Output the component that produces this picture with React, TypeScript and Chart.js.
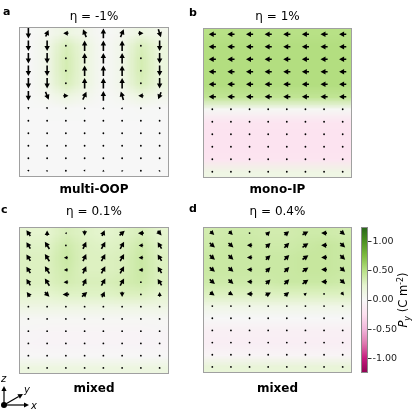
import React, { useEffect, useRef } from "react";
import { Chart, registerables } from "chart.js";

Chart.register(...registerables);

// ---------- data ----------
const colIndex = [0, 1, 2, 3, 4, 5, 6, 7];
const rowIndex = [0, 1, 2, 3, 4, 5, 6, 7, 8, 9, 10, 11];
const cbTicks = [-1, -0.5, 0, 0.5, 1];
const cbMin = -1.25;
const cbMax = 1.25;

// Py (colour) per panel, rows top->bottom, 8 columns
const pyA = [
  [0.0, 0.05, 0.14, 0.08, 0.0, 0.05, 0.14, 0.08],
  [0.0, 0.1, 0.32, 0.16, 0.0, 0.1, 0.32, 0.16],
  [0.0, 0.1, 0.35, 0.16, 0.0, 0.1, 0.35, 0.16],
  [0.0, 0.1, 0.35, 0.16, 0.0, 0.1, 0.35, 0.16],
  [0.0, 0.1, 0.32, 0.16, 0.0, 0.1, 0.32, 0.16],
  [0.0, 0.05, 0.15, 0.08, 0.0, 0.05, 0.15, 0.08],
  [0.0, 0.0, 0.01, 0.0, 0.0, 0.0, 0.01, 0.0],
  [0.0, 0.0, 0.0, 0.0, 0.0, 0.0, 0.0, 0.0],
  [0.0, 0.0, 0.0, 0.0, 0.0, 0.0, 0.0, 0.0],
  [0.0, 0.0, 0.0, 0.0, 0.0, 0.0, 0.0, 0.0],
  [0.0, 0.0, 0.0, 0.0, 0.0, 0.0, 0.0, 0.0],
  [0.0, 0.0, 0.0, 0.0, 0.0, 0.0, 0.0, 0.0],
];
const pyB = [
  [0.5, 0.5, 0.5, 0.5, 0.5, 0.5, 0.5, 0.5],
  [0.52, 0.52, 0.52, 0.52, 0.52, 0.52, 0.52, 0.52],
  [0.52, 0.52, 0.52, 0.52, 0.52, 0.52, 0.52, 0.52],
  [0.52, 0.52, 0.52, 0.52, 0.52, 0.52, 0.52, 0.52],
  [0.52, 0.52, 0.52, 0.52, 0.52, 0.52, 0.52, 0.52],
  [0.45, 0.45, 0.45, 0.45, 0.45, 0.45, 0.45, 0.45],
  [0.02, 0.02, 0.02, 0.02, 0.02, 0.02, 0.02, 0.02],
  [-0.2, -0.2, -0.2, -0.2, -0.2, -0.2, -0.2, -0.2],
  [-0.22, -0.22, -0.22, -0.22, -0.22, -0.22, -0.22, -0.22],
  [-0.22, -0.22, -0.22, -0.22, -0.22, -0.22, -0.22, -0.22],
  [-0.2, -0.2, -0.2, -0.2, -0.2, -0.2, -0.2, -0.2],
  [0.12, 0.12, 0.12, 0.12, 0.12, 0.12, 0.12, 0.12],
];
const pyC = [
  [0.25, 0.25, 0.32, 0.28, 0.25, 0.28, 0.32, 0.25],
  [0.28, 0.28, 0.38, 0.3, 0.28, 0.3, 0.38, 0.28],
  [0.3, 0.3, 0.4, 0.3, 0.3, 0.32, 0.4, 0.3],
  [0.3, 0.3, 0.38, 0.3, 0.3, 0.32, 0.4, 0.3],
  [0.3, 0.3, 0.35, 0.32, 0.32, 0.35, 0.38, 0.3],
  [0.25, 0.25, 0.28, 0.28, 0.28, 0.3, 0.3, 0.25],
  [0.12, 0.12, 0.12, 0.12, 0.12, 0.12, 0.12, 0.12],
  [0.02, 0.02, 0.02, 0.02, 0.02, 0.02, 0.02, 0.02],
  [-0.02, -0.03, -0.03, -0.03, -0.03, -0.03, -0.03, -0.02],
  [-0.03, -0.04, -0.04, -0.04, -0.04, -0.04, -0.04, -0.03],
  [0.0, 0.0, 0.0, 0.0, 0.0, 0.0, 0.0, 0.0],
  [0.15, 0.15, 0.15, 0.15, 0.15, 0.15, 0.15, 0.15],
];
const pyD = [
  [0.36, 0.38, 0.38, 0.36, 0.36, 0.38, 0.38, 0.36],
  [0.38, 0.4, 0.4, 0.38, 0.38, 0.4, 0.42, 0.4],
  [0.4, 0.4, 0.4, 0.4, 0.4, 0.42, 0.42, 0.4],
  [0.4, 0.4, 0.4, 0.4, 0.4, 0.42, 0.42, 0.4],
  [0.38, 0.38, 0.38, 0.38, 0.4, 0.4, 0.4, 0.38],
  [0.3, 0.3, 0.3, 0.3, 0.3, 0.3, 0.3, 0.3],
  [0.1, 0.1, 0.1, 0.1, 0.1, 0.1, 0.1, 0.1],
  [0.0, 0.0, 0.0, 0.0, 0.0, 0.0, 0.0, 0.0],
  [-0.08, -0.08, -0.08, -0.08, -0.08, -0.08, -0.08, -0.08],
  [-0.1, -0.1, -0.1, -0.1, -0.1, -0.1, -0.1, -0.1],
  [-0.03, -0.03, -0.03, -0.03, -0.03, -0.03, -0.03, -0.03],
  [0.2, 0.2, 0.2, 0.2, 0.2, 0.2, 0.2, 0.2],
];

// Px / Pz (arrows) per panel
const pxA = [
  [0, 0.22, -0.4, -0.25, 0, 0.25, 0.4, 0.2],
  [0, 0, 0, 0, 0, 0, 0, 0],
  [0, 0, 0, 0, 0, 0, 0, 0],
  [0, 0, 0, 0, 0, 0, 0, 0],
  [0, 0, 0, 0, 0, 0, 0, 0],
  [0, 0.25, 0.4, 0.28, 0, -0.2, -0.4, -0.22],
  [0, 0.08, 0.12, -0.08, 0, 0.06, -0.12, -0.06],
  [0, 0, 0, 0, 0, 0, 0, 0],
  [0, 0, 0, 0, 0, 0, 0, 0],
  [0, 0, 0, 0, 0, 0, 0, 0],
  [0, 0, 0, 0, 0, 0, 0, 0],
  [0, 0.06, 0.1, 0.08, 0, -0.06, -0.1, 0.06],
];
const pzA = [
  [-0.8, 0.5, 0, 0.6, 0.75, 0.6, 0, -0.6],
  [-0.82, -0.8, 0.04, 0.8, 0.82, 0.8, 0.04, -0.8],
  [-0.82, -0.8, 0.04, 0.8, 0.82, 0.8, 0.04, -0.8],
  [-0.82, -0.8, 0.04, 0.8, 0.82, 0.8, 0.04, -0.8],
  [-0.82, -0.8, 0.04, 0.8, 0.82, 0.8, 0.04, -0.8],
  [-0.75, -0.6, 0, 0.6, 0.75, 0.65, 0, -0.55],
  [-0.2, -0.16, 0, 0.14, 0.18, 0.14, 0, -0.14],
  [-0.06, -0.05, 0, 0.05, 0.06, 0.05, 0, -0.05],
  [-0.05, -0.05, 0, 0.05, 0.05, 0.05, 0, -0.05],
  [-0.05, -0.05, 0, 0.05, 0.05, 0.05, 0, -0.05],
  [-0.06, -0.05, 0, 0.05, 0.06, 0.05, 0, -0.05],
  [-0.16, 0.12, 0, -0.12, 0.14, 0.12, 0, 0.12],
];
const pxB = [
  [-0.55, -0.55, -0.55, -0.55, -0.55, -0.55, -0.55, -0.55],
  [-0.55, -0.55, -0.55, -0.55, -0.55, -0.55, -0.55, -0.55],
  [-0.55, -0.55, -0.55, -0.55, -0.55, -0.55, -0.55, -0.55],
  [-0.55, -0.55, -0.55, -0.55, -0.55, -0.55, -0.55, -0.55],
  [-0.55, -0.55, -0.55, -0.55, -0.55, -0.55, -0.55, -0.55],
  [-0.55, -0.55, -0.55, -0.55, -0.55, -0.55, -0.55, -0.55],
  [-0.04, -0.04, -0.04, -0.04, -0.04, -0.04, -0.04, -0.04],
  [-0.04, -0.04, -0.04, -0.04, -0.04, -0.04, -0.04, -0.04],
  [-0.04, -0.04, -0.04, -0.04, -0.04, -0.04, -0.04, -0.04],
  [-0.04, -0.04, -0.04, -0.04, -0.04, -0.04, -0.04, -0.04],
  [-0.04, -0.04, -0.04, -0.04, -0.04, -0.04, -0.04, -0.04],
  [-0.04, -0.04, -0.04, -0.04, -0.04, -0.04, -0.04, -0.04],
];
const pzB = [
  [0, 0, 0, 0, 0, 0, 0, 0],
  [0, 0, 0, 0, 0, 0, 0, 0],
  [0, 0, 0, 0, 0, 0, 0, 0],
  [0, 0, 0, 0, 0, 0, 0, 0],
  [0, 0, 0, 0, 0, 0, 0, 0],
  [0, 0, 0, 0, 0, 0, 0, 0],
  [0, 0, 0, 0, 0, 0, 0, 0],
  [0, 0, 0, 0, 0, 0, 0, 0],
  [0, 0, 0, 0, 0, 0, 0, 0],
  [0, 0, 0, 0, 0, 0, 0, 0],
  [0, 0, 0, 0, 0, 0, 0, 0],
  [0, 0, 0, 0, 0, 0, 0, 0],
];
const pxC = [
  [-0.3, 0, -0.15, 0, 0.2, 0.4, -0.45, 0.3],
  [-0.3, -0.35, -0.08, 0.25, 0.3, 0.3, -0.35, -0.3],
  [-0.3, -0.35, -0.3, 0.25, 0.3, 0.3, -0.35, -0.3],
  [-0.3, -0.35, -0.3, 0.25, 0.3, 0.3, -0.35, -0.3],
  [-0.3, -0.35, -0.35, 0.25, 0.3, 0.3, -0.08, -0.3],
  [-0.25, 0.35, -0.5, 0.4, 0.2, 0, -0.05, 0],
  [-0.04, 0.05, -0.05, 0.05, 0.04, 0.04, -0.05, 0.04],
  [-0.03, 0.03, -0.03, 0.03, 0.03, 0.03, -0.03, 0.03],
  [-0.03, 0.03, -0.03, 0.03, 0.03, 0.03, -0.03, 0.03],
  [-0.03, 0.03, -0.03, 0.03, 0.03, 0.03, -0.03, 0.03],
  [-0.03, 0.03, -0.03, 0.03, 0.03, 0.03, -0.03, 0.03],
  [-0.04, 0.04, -0.05, 0.04, 0.04, 0.04, -0.05, 0.04],
];
const pzC = [
  [0.45, 0.4, 0, -0.4, 0.45, 0.35, 0, -0.35],
  [0.5, 0.55, 0, 0.55, 0.55, 0.55, 0, 0.5],
  [0.5, 0.55, 0, 0.55, 0.55, 0.55, 0, 0.5],
  [0.5, 0.55, 0, 0.55, 0.55, 0.55, 0, 0.5],
  [0.5, 0.55, 0, 0.55, 0.55, 0.55, 0, 0.5],
  [0.35, -0.35, 0, 0.35, 0.45, -0.4, 0, 0.35],
  [0.04, -0.04, 0, 0.04, 0.04, -0.04, 0, 0.04],
  [0.03, -0.03, 0, 0.03, 0.03, -0.03, 0, 0.03],
  [0.03, -0.03, 0, 0.03, 0.03, -0.03, 0, 0.03],
  [0.03, -0.03, 0, 0.03, 0.03, -0.03, 0, 0.03],
  [0.03, -0.03, 0, 0.03, 0.03, -0.03, 0, 0.03],
  [0.04, -0.04, 0, 0.04, 0.04, -0.04, 0, 0.04],
];
const pxD = [
  [0.3, 0.28, -0.1, 0.3, 0.35, 0.45, -0.45, 0.35],
  [0.4, 0.38, -0.4, 0.35, 0.38, 0.45, -0.45, 0.38],
  [0.4, 0.38, -0.4, 0.35, 0.38, 0.45, -0.45, 0.38],
  [0.4, 0.38, -0.4, 0.35, 0.38, 0.45, -0.45, 0.38],
  [0.4, 0.38, -0.4, 0.35, 0.38, 0.45, -0.45, 0.38],
  [0.35, 0.35, -0.45, 0.42, 0.35, 0.2, -0.08, 0.2],
  [0.04, 0.04, -0.05, 0.04, 0.04, 0.04, -0.04, 0.04],
  [0.03, 0.03, -0.03, 0.03, 0.03, 0.03, -0.03, 0.03],
  [0.03, 0.03, -0.03, 0.03, 0.03, 0.03, -0.03, 0.03],
  [0.03, 0.03, -0.03, 0.03, 0.03, 0.03, -0.03, 0.03],
  [0.03, 0.03, -0.03, 0.03, 0.03, 0.03, -0.03, 0.03],
  [0.04, 0.04, -0.05, 0.04, 0.04, 0.04, -0.04, 0.04],
];
const pzD = [
  [-0.28, -0.28, 0, 0.3, 0.3, 0.25, 0, -0.3],
  [-0.35, -0.35, 0, 0.35, 0.38, 0.32, 0, -0.35],
  [-0.35, -0.35, 0, 0.35, 0.38, 0.32, 0, -0.35],
  [-0.35, -0.35, 0, 0.35, 0.38, 0.32, 0, -0.35],
  [-0.35, -0.35, 0, 0.35, 0.38, 0.32, 0, -0.35],
  [-0.25, -0.2, 0, 0.22, 0.3, 0.18, 0, -0.25],
  [-0.03, -0.03, 0, 0.03, 0.03, 0.03, 0, -0.03],
  [-0.02, -0.02, 0, 0.02, 0.02, 0.02, 0, -0.02],
  [-0.02, -0.02, 0, 0.02, 0.02, 0.02, 0, -0.02],
  [-0.02, -0.02, 0, 0.02, 0.02, 0.02, 0, -0.02],
  [-0.02, -0.02, 0, 0.02, 0.02, 0.02, 0, -0.02],
  [-0.03, -0.03, 0, 0.03, 0.03, 0.03, 0, -0.03],
];

const titles = ["η = -1%", "η = 1%", "η = 0.1%", "η = 0.4%"];
const phaseLabels = ["multi-OOP", "mono-IP", "mixed", "mixed"];
const letters = ["a", "b", "c", "d"];
const cbLabelMain = "P";
const cbLabelSub = "y";
const cbLabelUnit = " (C m";
const cbLabelSup = "-2";

// ---------- styling / layout ----------
const FONT = '"DejaVu Sans", "Noto Sans", sans-serif';
const ARROW_SCALE = 13; // px per unit
const PANEL_LAYOUT = [
  { l: 19, t: 27, r: 169, b: 177, titleY: 20, labelY: 193, letterX: 3, letterY: 15, triad: false },
  { l: 203, t: 28, r: 352, b: 178, titleY: 20, labelY: 193, letterX: 189, letterY: 16, triad: false },
  { l: 19, t: 227, r: 169, b: 374, titleY: 215, labelY: 392, letterX: 1, letterY: 213, triad: true },
  { l: 203, t: 227, r: 352, b: 373, titleY: 215, labelY: 392, letterX: 189, letterY: 212, triad: false },
];
const CB_BOX = { l: 361, t: 227, r: 368, b: 373 };

const PIYG = [
  [142, 1, 82], [197, 27, 125], [222, 119, 174], [241, 182, 218], [253, 224, 239],
  [247, 247, 247], [230, 245, 208], [184, 225, 134], [127, 188, 65], [77, 146, 33], [39, 100, 25],
];
function cmap(v: number): number[] {
  let t = (v - cbMin) / (cbMax - cbMin);
  t = Math.max(0, Math.min(1, t));
  const f = t * 10;
  const i = Math.min(9, Math.floor(f));
  const w = f - i;
  return PIYG[i].map((a, k) => Math.round(a + (PIYG[i + 1][k] - a) * w));
}

function drawArrow(ctx: CanvasRenderingContext2D, cx: number, cy: number, dx: number, dy: number) {
  const L = Math.hypot(dx, dy);
  if (L < 1.6) {
    ctx.beginPath();
    ctx.arc(cx, cy, 0.9, 0, Math.PI * 2);
    ctx.fill();
    return;
  }
  const ux = dx / L, uy = dy / L;
  const nx = -uy, ny = ux;
  const tx = cx - dx / 2, ty = cy - dy / 2;
  const hx = cx + dx / 2, hy = cy + dy / 2;
  let hl = 5, hw = 2.7, sw = 0.8;
  if (L < hl * 1.15) {
    const k = L / (hl * 1.15);
    hl *= k;
    hw = Math.max(hw * k, 1.2);
    sw *= k;
  }
  const bx = hx - ux * hl, by = hy - uy * hl;
  ctx.beginPath();
  ctx.moveTo(tx + nx * sw, ty + ny * sw);
  ctx.lineTo(bx + nx * sw, by + ny * sw);
  ctx.lineTo(bx + nx * hw, by + ny * hw);
  ctx.lineTo(hx, hy);
  ctx.lineTo(bx - nx * hw, by - ny * hw);
  ctx.lineTo(bx - nx * sw, by - ny * sw);
  ctx.lineTo(tx - nx * sw, ty - ny * sw);
  ctx.closePath();
  ctx.fill();
}

function drawTriad(ctx: CanvasRenderingContext2D) {
  const ox = 4, oy = 405;
  ctx.save();
  ctx.fillStyle = "#000";
  ctx.strokeStyle = "#000";
  ctx.lineWidth = 1.2;
  const arrow = (tx: number, ty: number) => {
    const L = Math.hypot(tx - ox, ty - oy);
    const ux = (tx - ox) / L, uy = (ty - oy) / L;
    const nx = -uy, ny = ux;
    const bx = tx - ux * 5, by = ty - uy * 5;
    ctx.beginPath();
    ctx.moveTo(ox, oy);
    ctx.lineTo(bx, by);
    ctx.stroke();
    ctx.beginPath();
    ctx.moveTo(tx, ty);
    ctx.lineTo(bx + nx * 2.6, by + ny * 2.6);
    ctx.lineTo(bx - nx * 2.6, by - ny * 2.6);
    ctx.closePath();
    ctx.fill();
  };
  arrow(ox, 386);
  arrow(29, oy);
  arrow(23, 394);
  ctx.beginPath();
  ctx.arc(ox, oy, 3, 0, Math.PI * 2);
  ctx.fill();
  ctx.font = `italic 10px ${FONT}`;
  ctx.textAlign = "left";
  ctx.textBaseline = "alphabetic";
  ctx.fillText("z", 1, 382);
  ctx.fillText("y", 24, 393);
  ctx.fillText("x", 31, 409);
  ctx.restore();
}

type PanelSpec = {
  py: number[][];
  px: number[][];
  pz: number[][];
  title: string;
  label: string;
  letter: string;
  lay: (typeof PANEL_LAYOUT)[number];
};

const PANELS: PanelSpec[] = [
  { py: pyA, px: pxA, pz: pzA, title: titles[0], label: phaseLabels[0], letter: letters[0], lay: PANEL_LAYOUT[0] },
  { py: pyB, px: pxB, pz: pzB, title: titles[1], label: phaseLabels[1], letter: letters[1], lay: PANEL_LAYOUT[1] },
  { py: pyC, px: pxC, pz: pzC, title: titles[2], label: phaseLabels[2], letter: letters[2], lay: PANEL_LAYOUT[2] },
  { py: pyD, px: pxD, pz: pzD, title: titles[3], label: phaseLabels[3], letter: letters[3], lay: PANEL_LAYOUT[3] },
];

function panelConfig(p: PanelSpec): any {
  const points: any[] = [];
  rowIndex.forEach((r) =>
    colIndex.forEach((c) => points.push({ x: c, y: r, u: p.px[r][c], v: p.pz[r][c] }))
  );
  const heat = {
    id: "heat",
    beforeDatasetsDraw(chart: any) {
      const { ctx, chartArea: a } = chart;
      const xs = chart.scales.x, ys = chart.scales.y;
      const nr = p.py.length, nc = p.py[0].length;
      const off = document.createElement("canvas");
      off.width = nc;
      off.height = nr;
      const octx = off.getContext("2d")!;
      const img = octx.createImageData(nc, nr);
      for (let r = 0; r < nr; r++)
        for (let c = 0; c < nc; c++) {
          const col = cmap(p.py[r][c]);
          const i = (r * nc + c) * 4;
          img.data[i] = col[0];
          img.data[i + 1] = col[1];
          img.data[i + 2] = col[2];
          img.data[i + 3] = 255;
        }
      octx.putImageData(img, 0, 0);
      const x0 = xs.getPixelForValue(-0.5), x1 = xs.getPixelForValue(nc - 0.5);
      const y0 = ys.getPixelForValue(-0.5), y1 = ys.getPixelForValue(nr - 0.5);
      ctx.save();
      ctx.beginPath();
      ctx.rect(a.left, a.top, a.right - a.left, a.bottom - a.top);
      ctx.clip();
      ctx.imageSmoothingEnabled = true;
      ctx.drawImage(off, Math.min(x0, x1), Math.min(y0, y1), Math.abs(x1 - x0), Math.abs(y1 - y0));
      ctx.restore();
    },
    afterDatasetsDraw(chart: any) {
      const { ctx, chartArea: a } = chart;
      const xs = chart.scales.x, ys = chart.scales.y;
      ctx.save();
      ctx.fillStyle = "#000";
      chart.data.datasets[0].data.forEach((d: any) => {
        const cx = xs.getPixelForValue(d.x);
        const cy = ys.getPixelForValue(d.y);
        drawArrow(ctx, cx, cy, d.u * ARROW_SCALE, -d.v * ARROW_SCALE);
      });
      ctx.strokeStyle = "#a0a0a0";
      ctx.lineWidth = 1;
      ctx.strokeRect(a.left + 0.5, a.top + 0.5, a.right - a.left - 1, a.bottom - a.top - 1);
      ctx.restore();
    },
    afterDraw(chart: any) {
      const { ctx, chartArea: a } = chart;
      const lay = p.lay;
      ctx.save();
      ctx.fillStyle = "#000";
      ctx.textBaseline = "alphabetic";
      ctx.textAlign = "center";
      ctx.font = `12px ${FONT}`;
      ctx.fillText(p.title, (a.left + a.right) / 2, lay.titleY);
      ctx.font = `bold 12px ${FONT}`;
      ctx.fillText(p.label, (a.left + a.right) / 2, lay.labelY);
      ctx.textAlign = "left";
      ctx.font = `bold 11px ${FONT}`;
      ctx.fillText(p.letter, lay.letterX, lay.letterY);
      ctx.restore();
      if (lay.triad) drawTriad(ctx);
    },
  };
  return {
    type: "scatter",
    data: { datasets: [{ data: points, pointRadius: 0, pointHoverRadius: 0 }] },
    options: {
      responsive: false,
      animation: false,
      events: [],
      layout: { padding: { left: p.lay.l, top: p.lay.t, right: 415 - p.lay.r, bottom: 415 - p.lay.b } },
      scales: {
        x: { type: "linear", display: false, min: -0.5, max: 7.5 },
        y: { type: "linear", display: false, min: -0.5, max: 11.5, reverse: true },
      },
      plugins: { legend: { display: false }, tooltip: { enabled: false }, title: { display: false } },
    },
    plugins: [heat],
  };
}

function colorbarConfig(): any {
  const cb = {
    id: "cbar",
    beforeDatasetsDraw(chart: any) {
      const { ctx, chartArea: a } = chart;
      const ys = chart.scales.y;
      const yTop = ys.getPixelForValue(cbMax), yBot = ys.getPixelForValue(cbMin);
      const g = ctx.createLinearGradient(0, yBot, 0, yTop);
      PIYG.forEach((c, i) => g.addColorStop(i / (PIYG.length - 1), `rgb(${c[0]},${c[1]},${c[2]})`));
      ctx.save();
      ctx.fillStyle = g;
      ctx.fillRect(a.left, yTop, a.right - a.left, yBot - yTop);
      ctx.strokeStyle = "#8a8a8a";
      ctx.lineWidth = 1;
      ctx.strokeRect(a.left + 0.5, yTop + 0.5, a.right - a.left - 1, yBot - yTop - 1);
      ctx.restore();
    },
    afterDraw(chart: any) {
      const { ctx, chartArea: a } = chart;
      const cy = (a.top + a.bottom) / 2;
      const cx = 403;
      ctx.save();
      ctx.translate(cx, cy);
      ctx.rotate(-Math.PI / 2);
      ctx.fillStyle = "#000";
      ctx.textBaseline = "alphabetic";
      ctx.textAlign = "left";
      const base = 4.2;
      const big = `11.5px ${FONT}`, bigI = `italic 11.5px ${FONT}`, small = `8px ${FONT}`, smallI = `italic 8px ${FONT}`;
      const parts = [
        { t: cbLabelMain, f: bigI, dy: 0 },
        { t: cbLabelSub, f: smallI, dy: 2.8 },
        { t: cbLabelUnit, f: big, dy: 0 },
        { t: cbLabelSup, f: small, dy: -4.6 },
        { t: ")", f: big, dy: 0 },
      ];
      let w = 0;
      parts.forEach((pt) => { ctx.font = pt.f; w += ctx.measureText(pt.t).width; });
      let x = -w / 2;
      parts.forEach((pt) => {
        ctx.font = pt.f;
        ctx.fillText(pt.t, x, base + pt.dy);
        x += ctx.measureText(pt.t).width;
      });
      ctx.restore();
    },
  };
  return {
    type: "scatter",
    data: { datasets: [{ data: [], pointRadius: 0 }] },
    options: {
      responsive: false,
      animation: false,
      events: [],
      layout: { padding: { left: CB_BOX.l, top: CB_BOX.t, right: 0, bottom: 415 - CB_BOX.b } },
      scales: {
        x: { type: "linear", display: false, min: 0, max: 1 },
        y: {
          type: "linear",
          position: "right",
          min: cbMin,
          max: cbMax,
          afterBuildTicks: (axis: any) => {
            axis.ticks = cbTicks.map((v) => ({ value: v }));
          },
          afterFit: (axis: any) => {
            axis.width = 415 - CB_BOX.r;
          },
          ticks: {
            callback: (v: any) => Number(v).toFixed(2),
            font: { size: 9.5, family: FONT },
            color: "#222",
            padding: 1,
          },
          grid: { drawOnChartArea: false, drawTicks: true, tickLength: 3.5, color: "#333" },
          border: { display: false },
        },
      },
      plugins: { legend: { display: false }, tooltip: { enabled: false } },
    },
    plugins: [cb],
  };
}

export default function App() {
  const refs = useRef<(HTMLCanvasElement | null)[]>([]);
  useEffect(() => {
    const charts: Chart[] = [];
    PANELS.forEach((p, i) => {
      const cv = refs.current[i];
      if (cv) charts.push(new Chart(cv, panelConfig(p)));
    });
    const cbv = refs.current[4];
    if (cbv) charts.push(new Chart(cbv, colorbarConfig()));
    return () => charts.forEach((c) => c.destroy());
  }, []);
  return (
    <div style={{ position: "absolute", left: 0, top: 0, width: 415, height: 415, background: "#fff" }}>
      {[0, 1, 2, 3, 4].map((i) => (
        <canvas
          key={i}
          ref={(el) => { refs.current[i] = el; }}
          width={415}
          height={415}
          style={{ position: "absolute", left: 0, top: 0, width: 415, height: 415 }}
        />
      ))}
    </div>
  );
}
